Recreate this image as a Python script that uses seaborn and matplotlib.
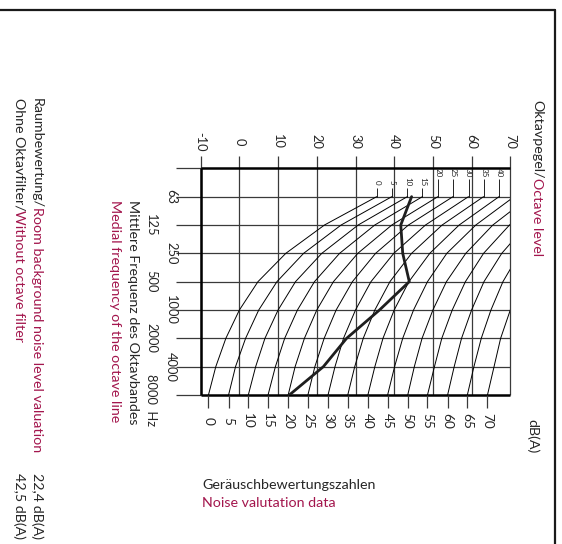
import numpy as np
import pandas as pd
import seaborn as sns
import matplotlib.pyplot as plt

# octave bands (rows of the rotated chart, 31.5 Hz = row 0 = upper frame)
freq_labels = ["63", "125", "250", "500", "1000", "2000", "4000", "8000  Hz"]
freq_pos = [1, 2, 3, 4, 5, 6, 7, 8]
level_ticks = [-10, 0, 10, 20, 30, 40, 50, 60, 70]

# Geräuschbewertungskurven (NR), Pegel bei 63 ... 8000 Hz
nr_numbers = [0, 5, 10, 15, 20, 25, 30, 35, 40, 45, 50, 55, 60, 65, 70]
nr_levels = [
    [35.5, 22.0, 12.0, 4.8, 0.0, -3.5, -6.1, -8.0],
    [39.4, 26.3, 16.6, 9.7, 5.0, 1.6, -1.0, -2.8],
    [43.4, 30.7, 21.3, 14.5, 10.0, 6.6, 4.2, 2.3],
    [47.3, 35.0, 25.9, 19.4, 15.0, 11.7, 9.3, 7.4],
    [51.3, 39.4, 30.6, 24.3, 20.0, 16.8, 14.4, 12.6],
    [55.2, 43.7, 35.2, 29.2, 25.0, 21.9, 19.5, 17.7],
    [59.2, 48.1, 39.9, 34.0, 30.0, 26.9, 24.7, 22.9],
    [63.1, 52.4, 44.5, 38.9, 35.0, 32.0, 29.8, 28.0],
    [67.1, 56.8, 49.2, 43.8, 40.0, 37.1, 35.0, 33.2],
    [71.0, 61.1, 53.6, 48.6, 45.0, 42.2, 40.1, 38.3],
    [75.0, 65.5, 58.5, 53.5, 50.0, 47.2, 45.2, 43.5],
    [78.9, 69.8, 63.1, 58.4, 55.0, 52.3, 50.4, 48.6],
    [82.9, 74.2, 67.8, 63.2, 60.0, 57.4, 55.5, 53.8],
    [86.8, 78.5, 72.4, 68.1, 65.0, 62.5, 60.6, 58.9],
    [90.8, 82.9, 77.1, 73.0, 70.0, 67.5, 65.8, 64.1],
]

# gemessenes Spektrum
measured = [44.5, 41.7, 42.2, 43.9, 36.2, 27.7, 21.7, 12.9]

RED = "#a3164d"
FONT = ["Lato", "DejaVu Sans"]
TXT = 10.3   # Beschriftungen
TCK = 9.3    # Achsenzahlen

sns.set_style("white")
plt.rcParams["font.family"] = FONT

W, H = 562, 544
fig = plt.figure(figsize=(W / 100, H / 100), dpi=100)

# Achsen genau auf den Diagrammrahmen legen (Pixel im Bild)
x0, x1, y0, y1 = 200.7, 510.3, 168.3, 395.0
ax = fig.add_axes([x0 / W, 1 - y1 / H, (x1 - x0) / W, (y1 - y0) / H])
ax.set_xlim(level_ticks[0], level_ticks[-1])
ax.set_ylim(freq_pos[-1], 0)
ax.axis("off")

def px(x, y):
    return x / W, 1 - y / H

grid_c = "#3a3a3a"
# Raster
ax.vlines(level_ticks, -0.42, freq_pos[-1], color=grid_c, lw=0.9, clip_on=False)
ax.hlines(freq_pos[:-1], -16.4, level_ticks[-1], color=grid_c, lw=0.9, clip_on=False)
ax.hlines([0, freq_pos[-1]], -16.4, level_ticks[0], color=grid_c, lw=0.9, clip_on=False)
# dicker Rahmen
ax.hlines([0, freq_pos[-1]], level_ticks[0], level_ticks[-1], color="black", lw=1.8,
          clip_on=False)
ax.vlines(level_ticks[0], 0, freq_pos[-1], color="black", lw=1.8, clip_on=False)

# NR-Kurven
rows = []
for n, lv in zip(nr_numbers, nr_levels):
    for p, l in zip(freq_pos, lv):
        rows.append({"nr": n, "level": l, "pos": p})
df = pd.DataFrame(rows)
sns.lineplot(data=df, x="level", y="pos", units="nr", estimator=None, sort=False,
             color="black", lw=0.7, ax=ax, legend=False)

# Messkurve
sns.lineplot(x=measured, y=freq_pos, estimator=None, sort=False, color="#1e1e1e",
             lw=2.0, ax=ax)

# Kurvenbeschriftung oben (0 ... 40)
for n, lv in zip(nr_numbers, nr_levels):
    if lv[0] > level_ticks[-1]:
        continue
    ty = 0.48 if n < 20 else 0.16
    ax.text(lv[0], ty, str(n), rotation=-90, ha="center", va="center", fontsize=5.8,
            clip_on=False)
    ax.vlines(lv[0], ty + 0.2, freq_pos[0], color="black", lw=0.6, clip_on=False)

# dB(A)-Skala unten
ends = [lv[-1] for lv in nr_levels]
ax.vlines(ends, freq_pos[-1], freq_pos[-1] + 0.45, color=grid_c, lw=0.9, clip_on=False)
for n, e in zip(nr_numbers, ends):
    ax.text(e, freq_pos[-1] + 0.92, str(n), rotation=-90, ha="center", va="center",
            fontsize=TCK + 0.5, clip_on=False)
ax.text(75.9, 9.45, "dB(A)", rotation=-90, ha="center", va="center", fontsize=TXT,
        clip_on=False)

# Pegelachse
for l in level_ticks:
    ax.text(l, -0.93, str(l), rotation=-90, ha="center", va="center", fontsize=TCK,
            clip_on=False)

# Frequenzachse
for i, (p, lab) in enumerate(zip(freq_pos, freq_labels)):
    lx = -17.6 if i % 2 == 0 else -22.8
    if lab.endswith("Hz"):
        ax.text(lx, p - 0.74, lab, rotation=-90, ha="center", va="top", fontsize=TCK,
                clip_on=False)
    else:
        ax.text(lx, p, lab, rotation=-90, ha="center", va="center", fontsize=TCK,
                clip_on=False)

fig.canvas.draw()
rend = fig.canvas.get_renderer()

def two_part(x, ytop, first, second, size=TXT):
    t = fig.text(*px(x, ytop), first, rotation=-90, ha="center", va="top",
                 fontsize=size)
    bb = t.get_window_extent(rend)
    fig.text(x / W, bb.y0 / H + 1 / H, second, rotation=-90, ha="center", va="top",
             fontsize=size, color=RED)

fig.text(*px(133, 200), "Mittlere Frequenz des Oktavbandes", rotation=-90,
         ha="center", va="top", fontsize=TXT)
fig.text(*px(115, 200), "Medial frequency of the octave line", rotation=-90,
         ha="center", va="top", fontsize=TXT, color=RED)
two_part(537, 100, "Oktavpegel/", "Octave level")
two_part(37, 98, "Raumbewertung/", "Room background noise level valuation")
two_part(19, 98, "Ohne Oktavfilter/", "Without octave filter")
fig.text(*px(37, 473), "22,4 dB(A)", rotation=-90, ha="center", va="top", fontsize=TXT)
fig.text(*px(19, 473), "42,5 dB(A)", rotation=-90, ha="center", va="top", fontsize=TXT)

fig.text(*px(202, 485), "Geräuschbewertungszahlen", ha="left", va="center",
         fontsize=TXT)
fig.text(*px(202, 503), "Noise valutation data", ha="left", va="center", fontsize=TXT,
         color=RED)

# äußerer Rahmen
fig.add_artist(plt.Line2D([0, 555 / W], [1 - 10 / H, 1 - 10 / H], color="#1a1a1a",
                          lw=1.6, transform=fig.transFigure))
fig.add_artist(plt.Line2D([555 / W, 555 / W], [1 - 10 / H, 0], color="#1a1a1a",
                          lw=1.6, transform=fig.transFigure))

fig.savefig("out.png", dpi=100)
